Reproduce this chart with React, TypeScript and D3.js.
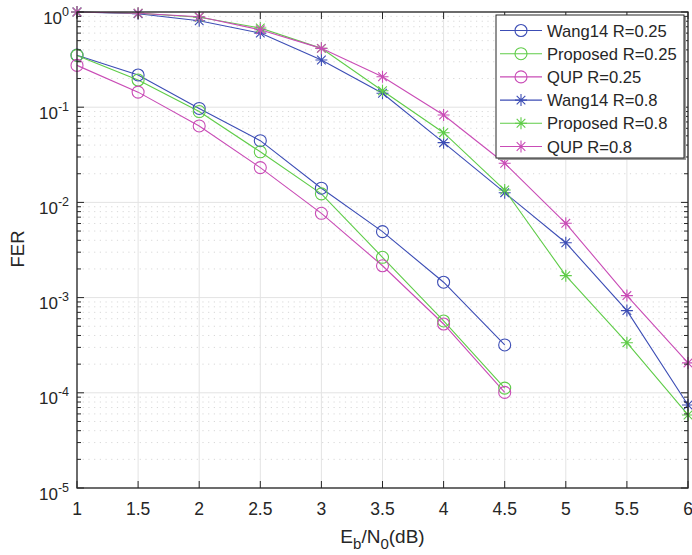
import React, { useRef, useEffect } from "react";
import * as d3 from "d3";

const snr = [1, 1.5, 2, 2.5, 3, 3.5, 4, 4.5, 5, 5.5, 6];

const wang025 = [0.352, 0.218, 0.097, 0.0445, 0.0141, 0.00493, 0.00145, 0.000318];
const prop025 = [0.35, 0.193, 0.09, 0.034, 0.0123, 0.00265, 0.000568, 0.000112];
const qup025 = [0.275, 0.144, 0.0635, 0.0232, 0.00768, 0.00216, 0.000528, 0.000101];

const wang08 = [1.0, 0.96, 0.81, 0.6, 0.313, 0.14, 0.0424, 0.01265, 0.00377, 0.00073, 7.45e-5];
const prop08 = [1.0, 0.97, 0.88, 0.68, 0.415, 0.149, 0.054, 0.0135, 0.0017, 0.000336, 5.85e-5];
const qup08 = [1.0, 0.97, 0.89, 0.65, 0.415, 0.209, 0.0828, 0.0258, 0.00603, 0.00105, 0.000206];

const xTicks = [1, 1.5, 2, 2.5, 3, 3.5, 4, 4.5, 5, 5.5, 6];
const yDecades = [0, -1, -2, -3, -4, -5];

const BLUE = "#3c4db5";
const GREEN = "#5fcc48";
const MAGENTA = "#c94cb6";

const series = [
  { name: "Wang14 R=0.25", values: wang025, color: BLUE, marker: "o" },
  { name: "Proposed R=0.25", values: prop025, color: GREEN, marker: "o" },
  { name: "QUP R=0.25", values: qup025, color: MAGENTA, marker: "o" },
  { name: "Wang14 R=0.8", values: wang08, color: BLUE, marker: "*" },
  { name: "Proposed R=0.8", values: prop08, color: GREEN, marker: "*" },
  { name: "QUP R=0.8", values: qup08, color: MAGENTA, marker: "*" },
];

const FONT = "'Liberation Sans', Arial, Helvetica, sans-serif";

const App = () => {
  const ref = useRef<SVGSVGElement>(null);

  useEffect(() => {
    const width = 692;
    const height = 555;
    const m = { left: 77, right: 688, top: 12, bottom: 488 };

    const svg = d3.select(ref.current);
    svg.selectAll("*").remove();

    const x = d3.scaleLinear().domain([1, 6]).range([m.left, m.right]);
    const y = d3.scaleLog().domain([1e-5, 1]).range([m.bottom, m.top]);

    svg.append("rect").attr("width", width).attr("height", height).attr("fill", "#fff");

    // minor grid
    const minors: number[] = [];
    for (let e = -5; e < 0; e++) for (let k = 2; k <= 9; k++) minors.push(k * Math.pow(10, e));
    const grid = svg.append("g");
    grid.selectAll("line.minor")
      .data(minors)
      .join("line")
      .attr("x1", m.left).attr("x2", m.right)
      .attr("y1", d => y(d)).attr("y2", d => y(d))
      .attr("stroke", "#d8d8d8")
      .attr("stroke-width", 1)
      .attr("stroke-dasharray", "1.2,4.5");
    grid.selectAll("line.majy")
      .data(yDecades)
      .join("line")
      .attr("x1", m.left).attr("x2", m.right)
      .attr("y1", d => y(Math.pow(10, d))).attr("y2", d => y(Math.pow(10, d)))
      .attr("stroke", "#e3e3e3");
    grid.selectAll("line.majx")
      .data(xTicks)
      .join("line")
      .attr("x1", d => x(d)).attr("x2", d => x(d))
      .attr("y1", m.top).attr("y2", m.bottom)
      .attr("stroke", "#e3e3e3");

    // series
    const line = d3.line<number>()
      .x((_, i) => x(snr[i]))
      .y(d => y(d));
    const plot = svg.append("g");
    series.forEach(s => {
      plot.append("path")
        .attr("d", line(s.values))
        .attr("fill", "none")
        .attr("stroke", s.color)
        .attr("stroke-width", 1.1);
    });

    const drawMarker = (g: any, cx: number, cy: number, type: string, color: string) => {
      if (type === "o") {
        g.append("circle").attr("cx", cx).attr("cy", cy).attr("r", 6)
          .attr("fill", "none").attr("stroke", color).attr("stroke-width", 1.1);
      } else {
        const r = 6;
        const d = r * 0.72;
        const p = `M${cx - r},${cy}H${cx + r}M${cx},${cy - r}V${cy + r}` +
          `M${cx - d},${cy - d}L${cx + d},${cy + d}M${cx - d},${cy + d}L${cx + d},${cy - d}`;
        g.append("path").attr("d", p).attr("stroke", color).attr("stroke-width", 1.1).attr("fill", "none");
      }
    };

    series.forEach(s => {
      s.values.forEach((v, i) => drawMarker(plot, x(snr[i]), y(v), s.marker, s.color));
    });

    // axes box and ticks
    const axes = svg.append("g").attr("stroke", "#262626").attr("stroke-width", 1);
    axes.append("rect")
      .attr("x", m.left).attr("y", m.top)
      .attr("width", m.right - m.left).attr("height", m.bottom - m.top)
      .attr("fill", "none").attr("stroke-width", 1.3);
    xTicks.forEach(t => {
      axes.append("line").attr("x1", x(t)).attr("x2", x(t)).attr("y1", m.bottom).attr("y2", m.bottom - 7);
      axes.append("line").attr("x1", x(t)).attr("x2", x(t)).attr("y1", m.top).attr("y2", m.top + 7);
    });
    yDecades.forEach(e => {
      const yy = y(Math.pow(10, e));
      axes.append("line").attr("x1", m.left).attr("x2", m.left + 7).attr("y1", yy).attr("y2", yy);
      axes.append("line").attr("x1", m.right).attr("x2", m.right - 7).attr("y1", yy).attr("y2", yy);
    });
    minors.forEach(v => {
      const yy = y(v);
      axes.append("line").attr("x1", m.left).attr("x2", m.left + 4).attr("y1", yy).attr("y2", yy);
      axes.append("line").attr("x1", m.right).attr("x2", m.right - 4).attr("y1", yy).attr("y2", yy);
    });

    // tick labels
    const labels = svg.append("g").attr("font-family", FONT).attr("fill", "#262626");
    labels.selectAll("text.xt")
      .data(xTicks)
      .join("text")
      .attr("x", d => x(d)).attr("y", m.bottom + 27)
      .attr("text-anchor", "middle")
      .attr("font-size", 17.5)
      .text(d => String(d));
    yDecades.forEach(e => {
      const t = labels.append("text")
        .attr("x", m.left - 8).attr("y", y(Math.pow(10, e)) + 11.5)
        .attr("text-anchor", "end").attr("font-size", 17);
      t.append("tspan").text("10");
      t.append("tspan").attr("dy", -8).attr("font-size", 12.5).text(String(e));
    });

    // axis titles
    const xl = labels.append("text")
      .attr("x", (m.left + m.right) / 2).attr("y", 543)
      .attr("text-anchor", "middle").attr("font-size", 19);
    xl.append("tspan").text("E");
    xl.append("tspan").attr("dy", 6).attr("font-size", 15).text("b");
    xl.append("tspan").attr("dy", -6).text("/N");
    xl.append("tspan").attr("dy", 6).attr("font-size", 15).text("0");
    xl.append("tspan").attr("dy", -6).text("(dB)");

    labels.append("text")
      .attr("transform", `translate(24,249) rotate(-90)`)
      .attr("text-anchor", "middle").attr("font-size", 18.5)
      .text("FER");

    // legend
    const lg = svg.append("g");
    const lx = 496, ly = 15, lw = 188, lh = 143;
    lg.append("rect").attr("x", lx + 2).attr("y", ly + 2).attr("width", lw).attr("height", lh)
      .attr("fill", "#9a9a9a");
    lg.append("rect").attr("x", lx).attr("y", ly).attr("width", lw).attr("height", lh)
      .attr("fill", "#fff").attr("stroke", "#262626").attr("stroke-width", 1);
    series.forEach((s, i) => {
      const yy = ly + 15.5 + i * 23.2;
      lg.append("line").attr("x1", lx + 4).attr("x2", lx + 46).attr("y1", yy).attr("y2", yy)
        .attr("stroke", s.color).attr("stroke-width", 1.1);
      drawMarker(lg, lx + 25, yy, s.marker, s.color);
      lg.append("text").attr("x", lx + 51).attr("y", yy + 6)
        .attr("font-family", FONT).attr("font-size", 16.6).attr("fill", "#262626")
        .text(s.name);
    });
  }, []);

  return <svg ref={ref} width={692} height={555} style={{ display: "block", position: "absolute", left: 0, top: 0 }} />;
};

export default App;
